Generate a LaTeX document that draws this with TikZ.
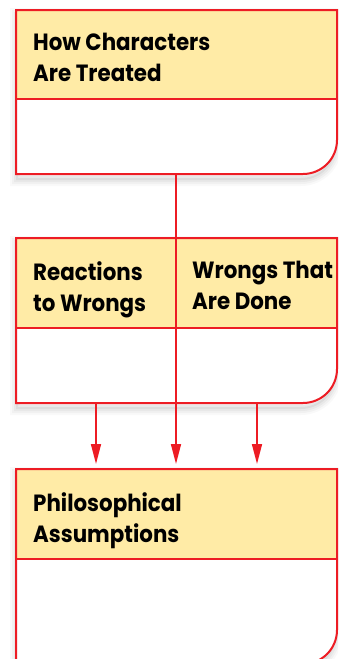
\documentclass[tikz,border=0pt]{standalone}
\usepackage{fontspec}
\setmainfont{Poppins}
\newfontfamily\headfont{Poppins}[FakeStretch=0.91]
\usetikzlibrary{arrows.meta,positioning}
\definecolor{chartred}{RGB}{237,28,36}
\definecolor{headyellow}{RGB}{255,235,166}

% one chart box: name, top, header bottom, bottom (pixels from top)
\newcommand{\chartbox}[4]{
	\foreach \w/\o in {14/0.025,10/0.03,6/0.04,2/0.05}
		\draw[line width=\w pt,black,opacity=\o]
			(17,{-5-#2}) -- (335,{-5-#2}) -- (335,{29-#4}) arc[start angle=0,end angle=-90,radius=34] -- (17,{-#4-5}) -- cycle;
	\fill[white] (16,-#2) -- (337,-#2) -- (337,{34-#4}) arc[start angle=0,end angle=-90,radius=34] -- (16,-#4) -- cycle;
	\fill[headyellow] (16,-#2) rectangle (337,-#3);
	\draw[boxline] (16,-#2) -- (337,-#2) -- (337,{34-#4}) arc[start angle=0,end angle=-90,radius=34] -- (16,-#4) -- cycle;
	\draw[boxline] (16,-#3) -- (337,-#3);
	\coordinate (#1 top) at (176,-#2);
	\coordinate (#1 bottom) at (176,-#4);
}

\tikzset{
	boxline/.style={draw=chartred,line width=2pt},
	heading/.style={anchor=north west,inner sep=0pt,align=left,font=\headfont\bfseries\fontsize{23.5}{31}\selectfont},
	link/.style={draw=chartred,line width=1.6pt,-{Triangle[length=20pt,width=10pt]}}
}

\begin{document}
\begin{tikzpicture}[x=1pt,y=1pt]
	\useasboundingbox (0,0) rectangle (338,-659);
	\clip (0,0) rectangle (338,-659);

	\chartbox{treated}{10}{99}{174}
	\node[heading] (treated) at (33,-33) {How Characters\\Are Treated};

	\chartbox{wrongs}{238}{328}{403}
	\node[heading] (reactions) at (33,-261) {Reactions\\to Wrongs};
	\node[heading] (done) at (192,-261) {Wrongs That\\Are Done};

	\chartbox{assumptions}{469}{559}{664}
	\node[heading] (assumptions) at (33,-492) {Philosophical\\Assumptions};

	% trunk line runs through the middle box as its divider
	\coordinate (react out) at (96,-403);
	\coordinate (done out) at (257,-403);
	\coordinate (react in) at (96,-469);
	\coordinate (done in) at (257,-469);
	\draw[boxline] (treated bottom) -- (wrongs bottom);
	\draw[link,shorten >=5pt] (wrongs bottom) -- (assumptions top);
	\draw[link,shorten >=5pt] (react out) -- (react in);
	\draw[link,shorten >=5pt] (done out) -- (done in);

\end{tikzpicture}
\end{document}
